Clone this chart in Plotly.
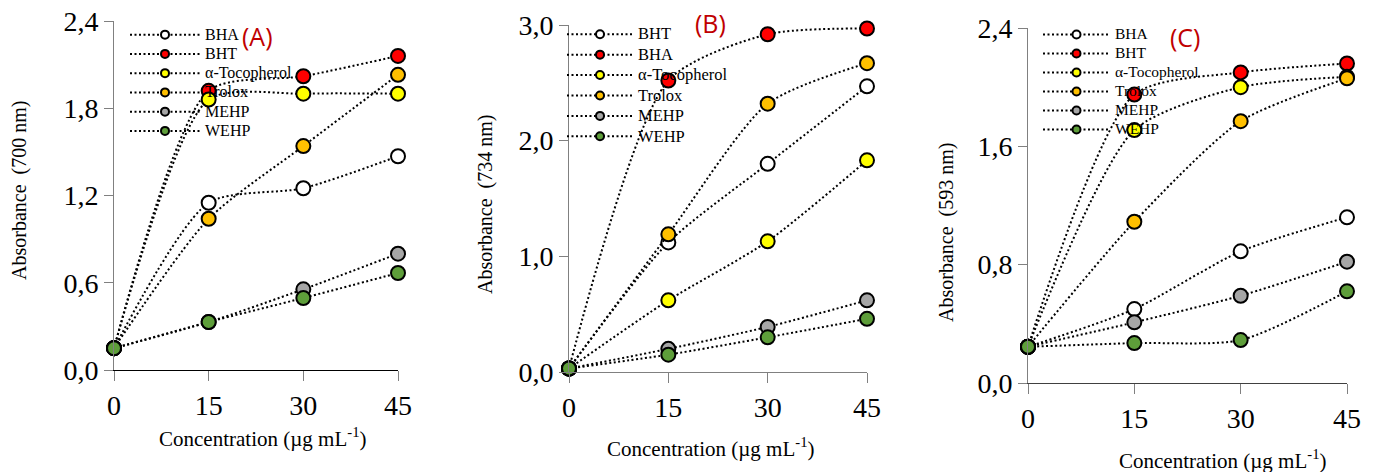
import plotly.graph_objects as go

conc = [0, 15, 30, 45]

# Panel A (700 nm)
a_names = ["BHA", "BHT", "α-Tocopherol", "Trolox", "MEHP", "WEHP"]
a_bha = [0.15, 1.15, 1.25, 1.47]
a_bht = [0.15, 1.92, 2.02, 2.16]
a_toc = [0.15, 1.86, 1.90, 1.90]
a_trolox = [0.15, 1.04, 1.54, 2.03]
a_mehp = [0.15, 0.33, 0.555, 0.80]
a_wehp = [0.15, 0.33, 0.495, 0.667]

# Panel B (734 nm)
b_names = ["BHT", "BHA", "α-Tocopherol", "Trolox", "MEHP", "WEHP"]
b_bht = [0.03, 1.12, 1.80, 2.47]
b_bha = [0.03, 2.52, 2.92, 2.97]
b_toc = [0.03, 0.62, 1.13, 1.83]
b_trolox = [0.03, 1.19, 2.32, 2.67]
b_mehp = [0.03, 0.20, 0.39, 0.62]
b_wehp = [0.03, 0.15, 0.30, 0.46]

# Panel C (593 nm)
c_names = ["BHA", "BHT", "α-Tocopherol", "Trolox", "MEHP", "WEHP"]
c_bha = [0.245, 0.50, 0.89, 1.12]
c_bht = [0.245, 1.95, 2.10, 2.16]
c_toc = [0.245, 1.71, 2.00, 2.07]
c_trolox = [0.245, 1.09, 1.77, 2.06]
c_mehp = [0.245, 0.41, 0.59, 0.82]
c_wehp = [0.245, 0.27, 0.29, 0.62]

colors = ["#FFFFFF", "#FF0000", "#FFFF00", "#FFC000", "#A6A6A6", "#5E9E3A"]

W, H = 1375, 472
SERIF = "Liberation Serif"

fig = go.Figure()

panels = [
    dict(names=a_names, series=[a_bha, a_bht, a_toc, a_trolox, a_mehp, a_wehp],
         xa="x", ya="y", legend="legend", tsize=16),
    dict(names=b_names, series=[b_bht, b_bha, b_toc, b_trolox, b_mehp, b_wehp],
         xa="x2", ya="y2", legend="legend2", tsize=16.5),
    dict(names=c_names, series=[c_bha, c_bht, c_toc, c_trolox, c_mehp, c_wehp],
         xa="x3", ya="y3", legend="legend3", tsize=15.5),
]

for p in panels:
    for name, vals, col in zip(p["names"], p["series"], colors):
        fig.add_trace(go.Scatter(
            x=conc, y=vals, mode="lines+markers", name=name,
            xaxis=p["xa"], yaxis=p["ya"], showlegend=False,
            line=dict(color="black", width=2, dash="2px,2.5px", shape="spline", smoothing=0.7),
            marker=dict(size=14, color=col, line=dict(color="black", width=2)),
            cliponaxis=False,
        ))
    for name, col in zip(p["names"], colors):
        fig.add_trace(go.Scatter(
            x=[None], y=[None], mode="lines+markers",
            name="<span style='font-size:%spx'>%s</span>" % (p["tsize"], name),
            xaxis=p["xa"], yaxis=p["ya"], legend=p["legend"], showlegend=True,
            line=dict(color="black", width=2, dash="2px,2.5px"),
            marker=dict(size=8, color=col, line=dict(color="black", width=2)),
        ))


def xd(a, b):
    return [a / W, b / W]


def yd(top, bottom):
    return [1 - bottom / H, 1 - top / H]


axis_common = dict(showgrid=False, zeroline=False, showline=True, ticks="outside",
                   automargin=False,
                   tickfont=dict(family=SERIF, size=28, color="black"))

fig.update_layout(
    width=W, height=H, margin=dict(l=0, r=0, t=0, b=0, autoexpand=False),
    paper_bgcolor="white", plot_bgcolor="white",
    separators=", ",
    xaxis=dict(domain=xd(114, 398), range=[0, 45], tickvals=conc, linecolor="black",
               ticklen=10, tickcolor="#808080", anchor="y", **axis_common),
    yaxis=dict(domain=yd(21, 370), range=[0, 2.4], dtick=0.6, tickformat=".1f",
               linecolor="#808080", tickcolor="#808080", ticklen=9, anchor="x", **axis_common),
    xaxis2=dict(domain=xd(569, 867), range=[0, 45], tickvals=conc, linecolor="#808080",
                ticklen=10, tickcolor="#808080", anchor="y2", **axis_common),
    yaxis2=dict(domain=yd(25, 372), range=[0, 3.0], dtick=1.0, tickformat=".1f",
                linecolor="#808080", tickcolor="#808080", ticklen=9, anchor="x2", **axis_common),
    xaxis3=dict(domain=xd(1028, 1347), range=[0, 45], tickvals=conc, linecolor="#404040",
                ticklen=10, tickcolor="#808080", anchor="y3", **axis_common),
    yaxis3=dict(domain=yd(28, 383), range=[0, 2.4], dtick=0.8, tickformat=".1f",
                linecolor="#808080", tickcolor="#808080", ticklen=9, anchor="x3", **axis_common),
)

legend_common = dict(bgcolor="rgba(0,0,0,0)", borderwidth=0,
                     xanchor="left", yanchor="top", tracegroupgap=0)
fig.update_layout(
    legend=dict(x=125 / W, y=1 - 20 / H, itemwidth=70,
                font=dict(family=SERIF, size=12.5, color="black"), **legend_common),
    legend2=dict(x=562 / W, y=1 - 19 / H, itemwidth=66,
                 font=dict(family=SERIF, size=13.4, color="black"), **legend_common),
    legend3=dict(x=1038 / W, y=1 - 20 / H, itemwidth=67,
                 font=dict(family=SERIF, size=11.2, color="black"), **legend_common),
)

ann = []
# Panel letters
for txt, x, y in [("(A)", 257, 36), ("(B)", 710, 23), ("(C)", 1185, 37)]:
    ann.append(dict(text=txt, x=x / W, y=1 - y / H, xref="paper", yref="paper",
                    xanchor="center", yanchor="middle",
                    showarrow=False, font=dict(family="Open Sans", size=25, color="#C00000")))
# Y titles
for txt, x, y in [("Absorbance  (700 nm)", 20, 191), ("Absorbance  (734 nm)", 485, 205),
                  ("Absorbance  (593 nm)", 946, 232)]:
    ann.append(dict(text=txt, x=x / W, y=1 - y / H, xref="paper", yref="paper", textangle=-90,
                    xanchor="center", yanchor="middle",
                    showarrow=False, font=dict(family=SERIF, size=20, color="black")))
# X titles
for x, y in [(262, 437), (710, 447), (1222, 459)]:
    ann.append(dict(text="Concentration (µg mL<sup>-1</sup>)", x=x / W, y=1 - y / H,
                    xref="paper", yref="paper", showarrow=False,
                    xanchor="center", yanchor="middle",
                    font=dict(family=SERIF, size=21, color="black")))
fig.update_layout(annotations=ann)

fig.write_html("out.html", config={"displayModeBar": False},
               post_script="document.body.style.margin='0';")
